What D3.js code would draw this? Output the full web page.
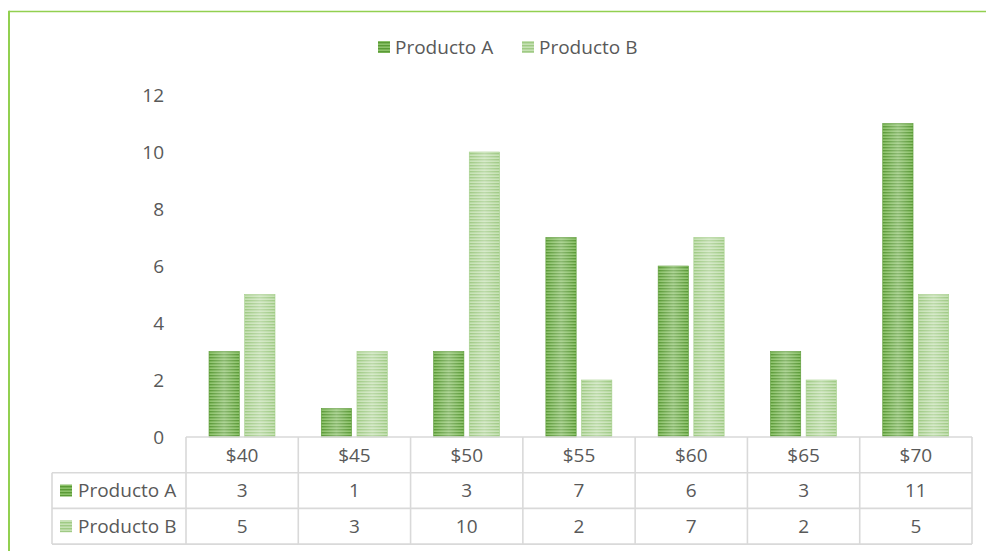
<!DOCTYPE html>
<html>
<head>
<meta charset="utf-8">
<script src="https://cdn.jsdelivr.net/npm/d3@7"></script>
<style>
  html, body { margin: 0; padding: 0; background: #fff; }
  svg { display: block; }
  text { font-family: "Open Sans", "Noto Sans", sans-serif; fill: #595959; }
</style>
</head>
<body>
<svg id="chart" width="986" height="551"></svg>
<script>
// Precios (categorías) y unidades por producto
const categories = ["$40", "$45", "$50", "$55", "$60", "$65", "$70"];
const seriesNames = ["Producto A", "Producto B"];
const productoA = [3, 1, 3, 7, 6, 3, 11];
const productoB = [5, 3, 10, 2, 7, 2, 5];
const yTicks = [0, 2, 4, 6, 8, 10, 12];

const seriesValues = [productoA, productoB];

const svg = d3.select("#chart");
const W = 986, H = 551;
const FONT = 19;

// Layout
const plotLeft = 186, plotRight = 972;
const plotTop = 95, plotBottom = 437;
const rowH = 35.7;
const tableLeft = 52;

const x = d3.scaleBand().domain(categories).range([plotLeft, plotRight]).paddingInner(0).paddingOuter(0);
const xInner = d3.scaleBand().domain(seriesNames).range([23, 89]).paddingInner(0.15).paddingOuter(0);
const y = d3.scaleLinear().domain([0, 12]).range([plotBottom, plotTop]);

// Striped fills for the bars
const defs = svg.append("defs");
const palette = {
  "Producto A": { base: "#8cc26a", stripe: "#5a9a36", edge: "#5e9c3a" },
  "Producto B": { base: "#c6e1b4", stripe: "#9fca84", edge: "#a5cf8a" }
};
seriesNames.forEach((name, i) => {
  const p = defs.append("pattern")
    .attr("id", "stripe" + i)
    .attr("patternUnits", "userSpaceOnUse")
    .attr("width", 8).attr("height", 3);
  p.append("rect").attr("width", 8).attr("height", 3).attr("fill", palette[name].base);
  p.append("rect").attr("width", 8).attr("height", 1.4).attr("fill", palette[name].stripe);
});
const sheen = defs.append("linearGradient").attr("id", "sheen")
  .attr("x1", "0%").attr("x2", "100%").attr("y1", "0%").attr("y2", "0%");
sheen.append("stop").attr("offset", "0%").attr("stop-color", "#fff").attr("stop-opacity", 0);
sheen.append("stop").attr("offset", "50%").attr("stop-color", "#fff").attr("stop-opacity", 0.3);
sheen.append("stop").attr("offset", "100%").attr("stop-color", "#fff").attr("stop-opacity", 0);

// Outer frame (top and left edges visible)
svg.append("line").attr("x1", 9).attr("x2", W).attr("y1", 11.5).attr("y2", 11.5)
  .attr("stroke", "#92d050").attr("stroke-width", 1.6);
svg.append("line").attr("x1", 9).attr("x2", 9).attr("y1", 10.7).attr("y2", H)
  .attr("stroke", "#92d050").attr("stroke-width", 2);

// Legend
const legend = svg.append("g");
const legendX = [378, 522];
seriesNames.forEach((name, i) => {
  legend.append("rect").attr("x", legendX[i]).attr("y", 41).attr("width", 12).attr("height", 12)
    .attr("fill", "url(#stripe" + i + ")");
  legend.append("text").attr("x", legendX[i] + 17).attr("y", 47).attr("dy", "0.35em")
    .attr("font-size", FONT).text(name);
});

// Y axis labels
const yAxis = d3.axisLeft(y).tickValues(yTicks).tickSize(0).tickPadding(0);
const gy = svg.append("g").attr("transform", "translate(164,0)").call(yAxis);
gy.select(".domain").remove();
gy.selectAll("text").attr("font-size", FONT).attr("font-family", null).attr("fill", "#595959");

// Bars
const groups = svg.append("g").selectAll("g").data(categories).join("g")
  .attr("transform", d => `translate(${x(d)},0)`);
seriesNames.forEach((name, i) => {
  groups.append("rect")
    .attr("x", xInner(name))
    .attr("width", xInner.bandwidth())
    .attr("y", (d, j) => y(seriesValues[i][j]))
    .attr("height", (d, j) => y(0) - y(seriesValues[i][j]))
    .attr("fill", "url(#stripe" + i + ")")
    .attr("stroke", palette[name].edge).attr("stroke-width", 0.6);
  groups.append("rect")
    .attr("x", xInner(name))
    .attr("width", xInner.bandwidth())
    .attr("y", (d, j) => y(seriesValues[i][j]))
    .attr("height", (d, j) => y(0) - y(seriesValues[i][j]))
    .attr("fill", "url(#sheen)");
});

// Data table
const grid = svg.append("g").attr("stroke", "#d9d9d9").attr("stroke-width", 1.6).attr("fill", "none");
const tTop = plotBottom;
const rowsY = [tTop, tTop + rowH, tTop + 2 * rowH, tTop + 3 * rowH];
// horizontal lines
grid.append("line").attr("x1", plotLeft).attr("x2", plotRight).attr("y1", rowsY[0]).attr("y2", rowsY[0]);
[1, 2, 3].forEach(k => grid.append("line").attr("x1", tableLeft).attr("x2", plotRight)
  .attr("y1", rowsY[k]).attr("y2", rowsY[k]));
// vertical lines
grid.append("line").attr("x1", tableLeft).attr("x2", tableLeft).attr("y1", rowsY[1]).attr("y2", rowsY[3]);
categories.forEach(c => grid.append("line").attr("x1", x(c)).attr("x2", x(c))
  .attr("y1", rowsY[0]).attr("y2", rowsY[3]));
grid.append("line").attr("x1", plotRight).attr("x2", plotRight).attr("y1", rowsY[0]).attr("y2", rowsY[3]);

// header row: category labels
svg.append("g").selectAll("text").data(categories).join("text")
  .attr("x", d => x(d) + x.bandwidth() / 2)
  .attr("y", (rowsY[0] + rowsY[1]) / 2).attr("dy", "0.35em")
  .attr("text-anchor", "middle").attr("font-size", FONT).text(d => d);

// series rows
seriesNames.forEach((name, i) => {
  const cy = (rowsY[i + 1] + rowsY[i + 2]) / 2;
  svg.append("rect").attr("x", 60).attr("y", cy - 6).attr("width", 12).attr("height", 12)
    .attr("fill", "url(#stripe" + i + ")");
  svg.append("text").attr("x", 78).attr("y", cy).attr("dy", "0.35em")
    .attr("font-size", FONT).text(name);
  svg.append("g").selectAll("text").data(categories).join("text")
    .attr("x", d => x(d) + x.bandwidth() / 2)
    .attr("y", cy).attr("dy", "0.35em")
    .attr("text-anchor", "middle").attr("font-size", FONT)
    .text((d, j) => seriesValues[i][j]);
});
</script>
</body>
</html>
